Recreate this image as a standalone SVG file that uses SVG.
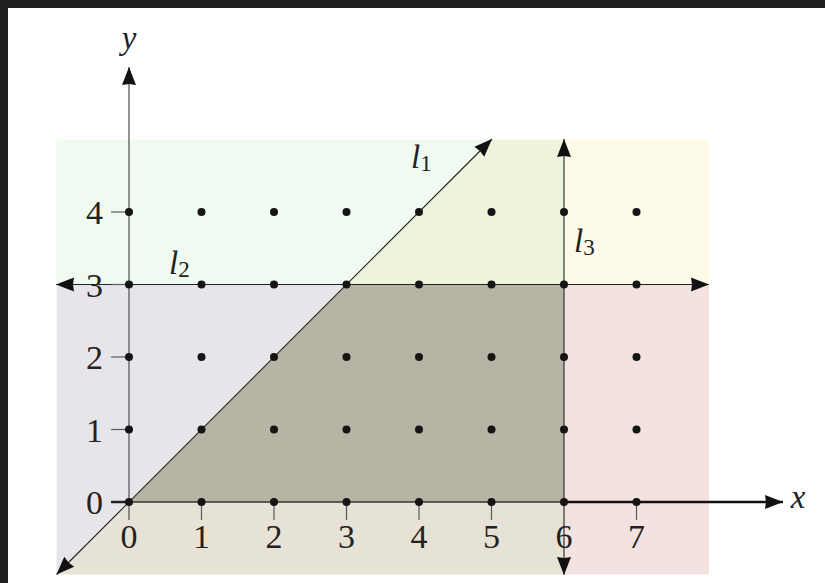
<svg xmlns="http://www.w3.org/2000/svg" width="825" height="583" viewBox="0 0 825 583">
<style>
.ln{stroke:#222;stroke-width:1.1;fill:none}
.ax{stroke:#5a5a5a;stroke-width:1.3;fill:none}
.tk{stroke:#5a5a5a;stroke-width:1.2}
.num{font-family:"Liberation Serif","DejaVu Serif",serif;font-size:34px;fill:#222}
.it{font-family:"Liberation Serif","DejaVu Serif",serif;font-style:italic;fill:#222}
.dot{fill:#151515}
</style>
<defs>
<marker id="ah" viewBox="0 0 19 16" markerUnits="userSpaceOnUse" markerWidth="19" markerHeight="16" refX="18" refY="8" orient="auto-start-reverse">
<path d="M0,1 L18,8 L0,15 L1,8 Z" fill="#111"/>
</marker>
</defs>
<rect width="825" height="583" fill="#ffffff"/>
<rect x="0" y="0" width="825" height="8" fill="#212121"/>
<rect x="0" y="0" width="8" height="583" fill="#212121"/>
<g id="regions">
<polygon points="56.5,139.5 491.5,139.5 346.5,284.5 56.5,284.5" fill="#effaf1"/>
<polygon points="491.5,139.5 564,139.5 564,284.5 346.5,284.5" fill="#eef4dc"/>
<polygon points="564,139.5 709,139.5 709,284.5 564,284.5" fill="#fefae8"/>
<polygon points="56.5,284.5 346.5,284.5 56.5,574.5" fill="#e7e5ea"/>
<polygon points="346.5,284.5 564,284.5 564,502 129,502" fill="#b8b4a5"/>
<polygon points="129,502 564,502 564,574.5 56.5,574.5" fill="#e7e2d6"/>
<polygon points="564,284.5 709,284.5 709,574.5 564,574.5" fill="#f3e2e0"/>
</g>
<g id="connectors">
<line id="y-axis" class="ax" x1="129" y1="520" x2="129" y2="67" marker-end="url(#ah)"/>
<line id="x-axis" class="ax" x1="129" y1="502" x2="564" y2="502" style="stroke:#333"/>
<line id="x-axis-right" x1="564" y1="502" x2="783" y2="502" stroke="#111" stroke-width="2.6" marker-end="url(#ah)"/>
<line id="l1" class="ln" x1="56.5" y1="574.5" x2="492" y2="139" marker-start="url(#ah)" marker-end="url(#ah)"/>
<line id="l2" class="ln" x1="56" y1="284.5" x2="709" y2="284.5" marker-start="url(#ah)" marker-end="url(#ah)"/>
<line id="l3" class="ln" x1="564" y1="139" x2="564" y2="575" marker-start="url(#ah)" marker-end="url(#ah)"/>
<g id="ticks">
<line class="tk" x1="111" y1="212" x2="129" y2="212"/>
<line class="tk" x1="111" y1="284.5" x2="129" y2="284.5"/>
<line class="tk" x1="111" y1="357" x2="129" y2="357"/>
<line class="tk" x1="111" y1="429.5" x2="129" y2="429.5"/>
<line x1="111" y1="502" x2="129" y2="502" stroke="#222" stroke-width="2.5"/>
<line class="tk" x1="201.5" y1="502" x2="201.5" y2="520"/>
<line class="tk" x1="274" y1="502" x2="274" y2="520"/>
<line class="tk" x1="346.5" y1="502" x2="346.5" y2="520"/>
<line class="tk" x1="419" y1="502" x2="419" y2="520"/>
<line class="tk" x1="491.5" y1="502" x2="491.5" y2="520"/>
<line class="tk" x1="636.5" y1="502" x2="636.5" y2="520"/>
</g>
</g>
<g id="dots">
<circle class="dot" cx="129" cy="212" r="4"/><circle class="dot" cx="201.5" cy="212" r="4"/><circle class="dot" cx="274" cy="212" r="4"/><circle class="dot" cx="346.5" cy="212" r="4"/><circle class="dot" cx="419" cy="212" r="4"/><circle class="dot" cx="491.5" cy="212" r="4"/><circle class="dot" cx="564" cy="212" r="4"/><circle class="dot" cx="636.5" cy="212" r="4"/>
<circle class="dot" cx="129" cy="284.5" r="4"/><circle class="dot" cx="201.5" cy="284.5" r="4"/><circle class="dot" cx="274" cy="284.5" r="4"/><circle class="dot" cx="346.5" cy="284.5" r="4"/><circle class="dot" cx="419" cy="284.5" r="4"/><circle class="dot" cx="491.5" cy="284.5" r="4"/><circle class="dot" cx="564" cy="284.5" r="4"/><circle class="dot" cx="636.5" cy="284.5" r="4"/>
<circle class="dot" cx="129" cy="357" r="4"/><circle class="dot" cx="201.5" cy="357" r="4"/><circle class="dot" cx="274" cy="357" r="4"/><circle class="dot" cx="346.5" cy="357" r="4"/><circle class="dot" cx="419" cy="357" r="4"/><circle class="dot" cx="491.5" cy="357" r="4"/><circle class="dot" cx="564" cy="357" r="4"/><circle class="dot" cx="636.5" cy="357" r="4"/>
<circle class="dot" cx="129" cy="429.5" r="4"/><circle class="dot" cx="201.5" cy="429.5" r="4"/><circle class="dot" cx="274" cy="429.5" r="4"/><circle class="dot" cx="346.5" cy="429.5" r="4"/><circle class="dot" cx="419" cy="429.5" r="4"/><circle class="dot" cx="491.5" cy="429.5" r="4"/><circle class="dot" cx="564" cy="429.5" r="4"/><circle class="dot" cx="636.5" cy="429.5" r="4"/>
<circle class="dot" cx="129" cy="502" r="4"/><circle class="dot" cx="201.5" cy="502" r="4"/><circle class="dot" cx="274" cy="502" r="4"/><circle class="dot" cx="346.5" cy="502" r="4"/><circle class="dot" cx="419" cy="502" r="4"/><circle class="dot" cx="491.5" cy="502" r="4"/><circle class="dot" cx="564" cy="502" r="4"/><circle class="dot" cx="636.5" cy="502" r="4"/>
</g>
<g id="labels">
<g text-anchor="end" class="num">
<text x="103" y="224">4</text>
<text x="103" y="296.5">3</text>
<text x="103" y="369">2</text>
<text x="103" y="441.5">1</text>
<text x="103" y="514">0</text>
</g>
<g text-anchor="middle" class="num">
<text x="129" y="548">0</text>
<text x="201.5" y="548">1</text>
<text x="274" y="548">2</text>
<text x="346.5" y="548">3</text>
<text x="419" y="548">4</text>
<text x="491.5" y="548">5</text>
<text x="564" y="548">6</text>
<text x="636.5" y="548">7</text>
</g>
<text class="it" x="129" y="49" font-size="33" text-anchor="middle">y</text>
<text class="it" x="798" y="508" font-size="33" text-anchor="middle">x</text>
<text class="it" x="411" y="168" font-size="33">l<tspan font-style="normal" font-size="23" dy="3">1</tspan></text>
<text class="it" x="169" y="274" font-size="33">l<tspan font-style="normal" font-size="23" dy="3">2</tspan></text>
<text class="it" x="574" y="252" font-size="33">l<tspan font-style="normal" font-size="23" dy="3">3</tspan></text>
</g>
</svg>
